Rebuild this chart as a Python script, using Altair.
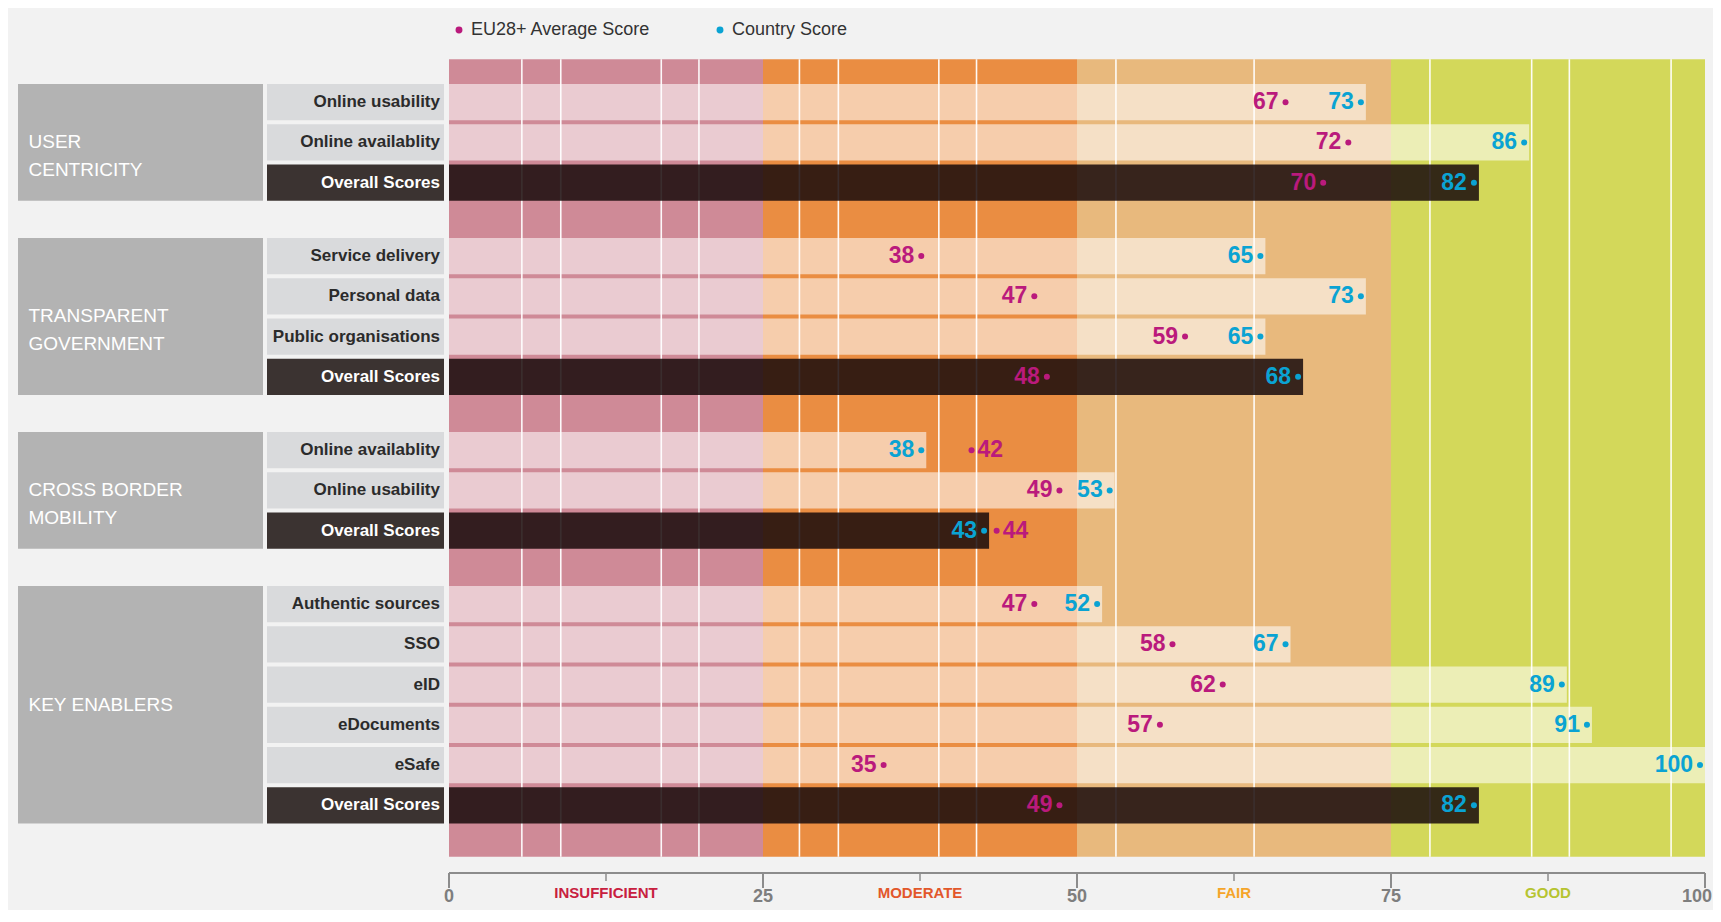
import altair as alt
import pandas as pd

# ------------------------------------------------------------------ data
group_names = ["USER\nCENTRICITY", "TRANSPARENT\nGOVERNMENT", "CROSS BORDER\nMOBILITY", "KEY ENABLERS"]
indicators = ["Online usability", "Online availablity", "Overall Scores",
              "Service delivery", "Personal data", "Public organisations", "Overall Scores",
              "Online availablity", "Online usability", "Overall Scores",
              "Authentic sources", "SSO", "eID", "eDocuments", "eSafe", "Overall Scores"]
indicator_group = [0, 0, 0, 1, 1, 1, 1, 2, 2, 2, 3, 3, 3, 3, 3, 3]
eu_scores = [67, 72, 70, 38, 47, 59, 48, 42, 49, 44, 47, 58, 62, 57, 35, 49]
country_scores = [73, 86, 82, 65, 73, 65, 68, 38, 53, 43, 52, 67, 89, 91, 100, 82]
series_names = ["EU28+ Average Score", "Country Score"]
zone_names = ["INSUFFICIENT", "MODERATE", "FAIR", "GOOD"]
zone_edges = [0, 25, 50, 75, 100]
grid_values = [5.8, 8.9, 16.9, 19.9, 27.9, 31.0, 39.0, 42.0, 53.1, 64.1, 78.1, 86.2, 89.2, 97.3]
major_ticks = [0, 25, 50, 75, 100]
minor_ticks = [12.5, 37.5, 62.5, 87.5]

# ------------------------------------------------------------------ styles
zone_fill = ["#CF8A97", "#EA8D42", "#E8B97D", "#D3D85A"]
zone_label_color = ["#C8203F", "#E2572B", "#F5A52A", "#B6C431"]
MAGENTA = "#BA1A7C"
CYAN = "#0AA3D3"
SANS = "Liberation Sans, Arial, sans-serif"

# ------------------------------------------------------------------ layout
W, H = 1705, 902
PX_PER_UNIT = 12.56
X0_PX = 441.0


def px_to_x(px):
    return (px - X0_PX) / PX_PER_UNIT


XS = alt.Scale(domain=[px_to_x(0), px_to_x(W)], nice=False, zero=False)
YS = alt.Scale(domain=[0, H], nice=False, zero=False, reverse=True)

GROUP_X0, GROUP_X1 = px_to_x(10), px_to_x(255)
SUB_X0, SUB_X1 = px_to_x(259), px_to_x(436)
GROUP_TEXT_X = px_to_x(20.5)
SUB_TEXT_X = px_to_x(432)

BAND_TOP, BAND_BOTTOM = 51.3, 848.7
ROW0, PITCH, GROUP_GAP, ROW_H = 76.0, 40.26, 33.1, 36.3
AXIS_Y, MAJOR_LEN, MINOR_LEN = 865.0, 15.0, 8.0
CAT_LABEL_Y, NUM_LABEL_Y = 885.0, 889.0


def xf(field):
    return alt.X(field, type="quantitative", scale=XS, axis=None)


def xd(v):
    return alt.X(datum=v, scale=XS, axis=None)


def yf(field):
    return alt.Y(field, type="quantitative", scale=YS, axis=None)


def yd(v):
    return alt.Y(datum=v, scale=YS, axis=None)


# ------------------------------------------------------------------ tables
rows = []
for i, name in enumerate(indicators):
    g = indicator_group[i]
    top = ROW0 + i * PITCH + g * GROUP_GAP
    overall = name == "Overall Scores"
    rows.append({
        "label": name, "group": g, "eu": eu_scores[i], "country": country_scores[i],
        "overall": overall, "top": top, "bottom": top + ROW_H, "mid": top + ROW_H / 2,
        "boxfill": "#3B3331" if overall else "#D9DADC",
        "textfill": "#FFFFFF" if overall else "#2B2B2B",
        "zero": 0,
    })
rows_df = pd.DataFrame(rows)

groups = []
for g, gname in enumerate(group_names):
    sub = rows_df[rows_df.group == g]
    groups.append({"name": gname, "top": sub.top.min(), "bottom": sub.bottom.max(),
                   "mid": (sub.top.min() + sub.bottom.max()) / 2})
groups_df = pd.DataFrame(groups)

dots = []
for r in rows:
    for s, val, col in ((series_names[0], r["eu"], MAGENTA), (series_names[1], r["country"], CYAN)):
        side = "right" if (s == series_names[0] and r["eu"] > r["country"]) else "left"
        dots.append({"series": s, "value": val, "mid": r["mid"], "side": side,
                     "tcolor": col, "txt": str(val)})
dots_df = pd.DataFrame(dots)

bands_df = pd.DataFrame({"start": zone_edges[:-1], "end": zone_edges[1:], "fill": zone_fill,
                         "name": zone_names, "lcolor": zone_label_color,
                         "center": [(a + b) / 2 for a, b in zip(zone_edges[:-1], zone_edges[1:])]})
grid_df = pd.DataFrame({"v": grid_values})
major_df = pd.DataFrame({"v": major_ticks, "txt": [str(t) for t in major_ticks]})
minor_df = pd.DataFrame({"v": minor_ticks})

# ------------------------------------------------------------------ layers
bands = alt.Chart(bands_df).mark_rect().encode(
    x=xf("start"), x2="end", y=yd(BAND_TOP), y2=alt.Y2(datum=BAND_BOTTOM),
    fill=alt.Fill("fill:N", scale=None))

grid = alt.Chart(grid_df).mark_rule(color="white", strokeWidth=1.6, opacity=0.95).encode(
    x=xf("v"), y=yd(BAND_TOP), y2=alt.Y2(datum=BAND_BOTTOM))

light_bars = alt.Chart(rows_df[~rows_df.overall]).mark_rect(fill="white", opacity=0.56).encode(
    x=xf("zero"), x2="country", y=yf("top"), y2="bottom")

dark_bars = alt.Chart(rows_df[rows_df.overall]).mark_rect(fill="#1A0C0C", opacity=0.86).encode(
    x=xf("zero"), x2="country", y=yf("top"), y2="bottom")

group_boxes = alt.Chart(groups_df).mark_rect(fill="#B3B3B3").encode(
    x=xd(GROUP_X0), x2=alt.X2(datum=GROUP_X1), y=yf("top"), y2="bottom")

group_text = alt.Chart(groups_df).mark_text(
    align="left", baseline="middle", font=SANS, fontSize=19, color="white",
    lineBreak="\n", lineHeight=28).encode(x=xd(GROUP_TEXT_X), y=yf("mid"), text="name:N")

sub_boxes = alt.Chart(rows_df).mark_rect().encode(
    x=xd(SUB_X0), x2=alt.X2(datum=SUB_X1), y=yf("top"), y2="bottom",
    fill=alt.Fill("boxfill:N", scale=None))

sub_text = alt.Chart(rows_df).mark_text(
    align="right", baseline="middle", font=SANS, fontSize=17, fontWeight="bold").encode(
    x=xd(SUB_TEXT_X), y=yf("mid"), text="label:N", fill=alt.Fill("textfill:N", scale=None))

dots_layer = alt.Chart(dots_df).mark_circle(size=36, opacity=1, xOffset=-5).encode(
    x=xf("value"), y=yf("mid"),
    color=alt.Color("series:N", scale=alt.Scale(domain=series_names, range=[MAGENTA, CYAN]),
                    legend=alt.Legend(orient="none", legendX=442, legendY=13, direction="horizontal",
                                      title=None, symbolType="circle", symbolSize=48,
                                      symbolStrokeWidth=0, labelFont=SANS, labelFontSize=18,
                                      labelColor="#333333", labelOffset=3, columnPadding=60,
                                      labelLimit=400, padding=0)))

left_labels = alt.Chart(dots_df[dots_df.side == "left"]).mark_text(
    align="right", baseline="middle", dx=-12, font=SANS, fontWeight="bold", fontSize=23).encode(
    x=xf("value"), y=yf("mid"), text="txt:N", fill=alt.Fill("tcolor:N", scale=None))

right_labels = alt.Chart(dots_df[dots_df.side == "right"]).mark_text(
    align="left", baseline="middle", dx=1, font=SANS, fontWeight="bold", fontSize=23).encode(
    x=xf("value"), y=yf("mid"), text="txt:N", fill=alt.Fill("tcolor:N", scale=None))

axis_line = alt.Chart(major_df).mark_rule(color="#8C8C8C", strokeWidth=2).encode(
    x=xd(0), x2=alt.X2(datum=100), y=yd(AXIS_Y))

major_rules = alt.Chart(major_df).mark_rule(color="#8C8C8C", strokeWidth=2).encode(
    x=xf("v"), y=yd(AXIS_Y), y2=alt.Y2(datum=AXIS_Y + MAJOR_LEN))

minor_rules = alt.Chart(minor_df).mark_rule(color="#8C8C8C", strokeWidth=1.5).encode(
    x=xf("v"), y=yd(AXIS_Y), y2=alt.Y2(datum=AXIS_Y + MINOR_LEN))

major_labels = alt.Chart(major_df[major_df.v < 100]).mark_text(
    align="center", baseline="middle", font=SANS, fontWeight="bold", fontSize=18, color="#7E7E7E").encode(
    x=xf("v"), y=yd(NUM_LABEL_Y), text="txt:N")

last_label = alt.Chart(major_df[major_df.v == 100]).mark_text(
    align="right", baseline="middle", dx=7, font=SANS, fontWeight="bold", fontSize=18, color="#7E7E7E").encode(
    x=xf("v"), y=yd(NUM_LABEL_Y), text="txt:N")

zone_labels = alt.Chart(bands_df).mark_text(
    align="center", baseline="middle", font=SANS, fontWeight="bold", fontSize=15).encode(
    x=xf("center"), y=yd(CAT_LABEL_Y), text="name:N", fill=alt.Fill("lcolor:N", scale=None))

chart = alt.layer(
    bands, grid, light_bars, dark_bars, group_boxes, group_text, sub_boxes, sub_text,
    dots_layer, left_labels, right_labels, axis_line, major_rules, minor_rules,
    major_labels, last_label, zone_labels,
).properties(
    width=W, height=H, padding=0,
    autosize=alt.AutoSizeParams(type="none"),
    background="#F2F2F2",
).configure_view(stroke=None)

chart.save("out.html", embed_options={"renderer": "svg", "actions": False})
